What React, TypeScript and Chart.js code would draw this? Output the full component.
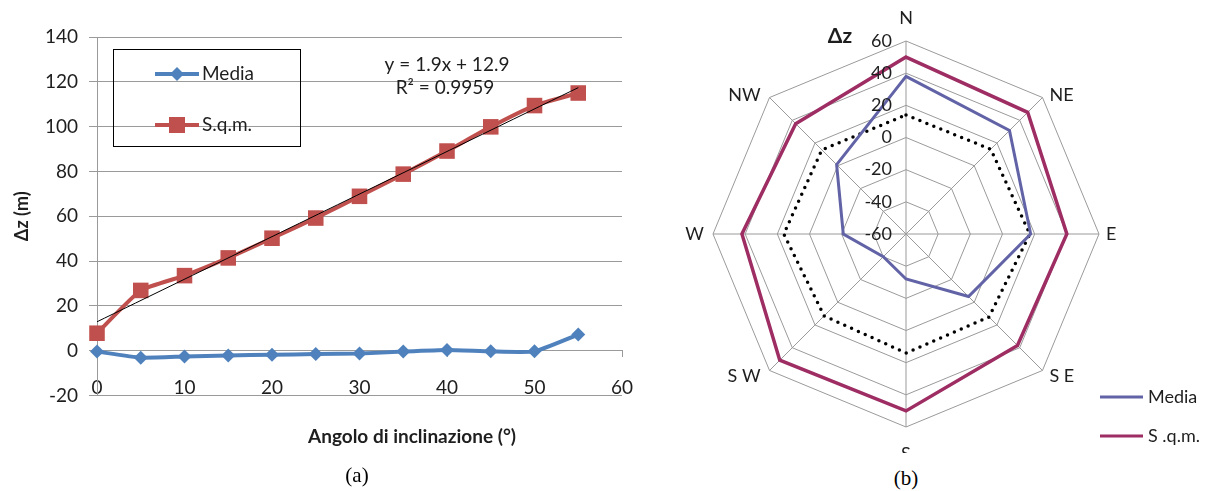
import React, { useEffect, useRef } from "react";
import { Chart, registerables } from "chart.js";

Chart.register(...registerables);

const FONT = "Lato, 'Open Sans', sans-serif";
const TEXT = "#1e1e1e";
const GRID = "#9a9a9a";

// ---------- Chart (a) data ----------
const angles = [0, 5, 10, 15, 20, 25, 30, 35, 40, 45, 50, 55];
const mediaA = [-0.4, -3.1, -2.6, -2.1, -1.8, -1.5, -1.3, -0.4, 0.3, -0.3, -0.3, 7.2];
const sqmA = [7.8, 26.9, 33.5, 41.4, 50.2, 59.2, 68.9, 78.8, 89.1, 99.9, 109.4, 115];
const trendX = [0, 55];
const trendY = [12.9, 117.4];
const yMinA = -20;
const yMaxA = 140;
const yStepA = 20;
const xMinA = 0;
const xMaxA = 60;
const xStepA = 10;
const legendA = ["Media", "S.q.m."];
const equationLines = ["y = 1.9x + 12.9", "R\u00B2 = 0.9959"];

// ---------- Chart (b) data ----------
const directions = ["N", "NE", "E", "S E", "S", "S W", "W", "NW"];
const mediaB = [38, 31, 17.5, -5, -32, -40, -21, 1];
const sqmB = [50, 47, 40, 38, 50, 51, 42, 37];
const dottedB = [14, 14.5, 17, 13, 14, 12, 16, 14];
const radarTicks = [-60, -40, -20, 0, 20, 40, 60];
const legendB = ["Media", "S .q.m."];

const BLUE = "#4F81BD";
const RED = "#C0504D";
const SLATE = "#6163A6";
const CRIMSON = "#9E2D63";

const annotA = {
  id: "annotA",
  afterDraw(chart: any) {
    const ctx = chart.ctx;
    ctx.save();
    // legend box
    ctx.strokeStyle = "#000";
    ctx.lineWidth = 1;
    ctx.strokeRect(113.5, 49.5, 187, 97);
    const rows = [74, 125];
    const cols = [BLUE, RED];
    rows.forEach((y, i) => {
      ctx.strokeStyle = cols[i];
      ctx.lineWidth = 4;
      ctx.beginPath();
      ctx.moveTo(155, y);
      ctx.lineTo(199, y);
      ctx.stroke();
      ctx.fillStyle = cols[i];
      ctx.beginPath();
      if (i === 0) {
        ctx.moveTo(177, y - 7);
        ctx.lineTo(184, y);
        ctx.lineTo(177, y + 7);
        ctx.lineTo(170, y);
        ctx.closePath();
      } else {
        ctx.rect(169, y - 8, 16, 16);
      }
      ctx.fill();
      ctx.fillStyle = TEXT;
      ctx.font = `19px ${FONT}`;
      ctx.textAlign = "left";
      ctx.textBaseline = "middle";
      ctx.fillText(legendA[i], 202, y);
    });
    // equation
    ctx.fillStyle = TEXT;
    ctx.font = `19px ${FONT}`;
    ctx.textAlign = "center";
    ctx.textBaseline = "middle";
    ctx.fillText(equationLines[0], 447, 65);
    ctx.fillText(equationLines[1], 445, 88);
    // x axis title
    ctx.font = `bold 19px ${FONT}`;
    ctx.fillText("Angolo di inclinazione (\u00B0)", 412, 437);
    ctx.restore();
  },
};

const annotB = {
  id: "annotB",
  afterDraw(chart: any) {
    const ctx = chart.ctx;
    const r = chart.scales.r;
    ctx.save();
    ctx.fillStyle = TEXT;
    ctx.font = `18px ${FONT}`;
    ctx.textAlign = "right";
    ctx.textBaseline = "middle";
    radarTicks.forEach((v) => {
      const d = r.getDistanceFromCenterForValue(v);
      ctx.fillText(String(v), r.xCenter - 14, r.yCenter - d);
    });
    directions.forEach((lab, i) => {
      const p = r.getPointPosition(i, r.drawingArea);
      const dx = p.x - r.xCenter;
      const dy = p.y - r.yCenter;
      let x = p.x;
      let y = p.y;
      if (Math.abs(dx) < 1) {
        ctx.textAlign = "center";
        y = dy < 0 ? p.y - 23 : p.y + 27;
      } else {
        ctx.textAlign = dx > 0 ? "left" : "right";
        x = dx > 0 ? p.x + 7 : p.x - 9;
        if (Math.abs(dy) < 1) y = p.y;
        else y = dy < 0 ? p.y - 2 : p.y + 6;
      }
      ctx.fillText(lab, x, y);
    });
    // Δz
    ctx.font = `bold 21px ${FONT}`;
    ctx.textAlign = "center";
    ctx.fillText("\u0394z", 180, 36);
    // legend
    const rows = [397, 436];
    const cols = [SLATE, CRIMSON];
    rows.forEach((y, i) => {
      ctx.strokeStyle = cols[i];
      ctx.lineWidth = 3;
      ctx.beginPath();
      ctx.moveTo(440, y);
      ctx.lineTo(483, y);
      ctx.stroke();
      ctx.fillStyle = TEXT;
      ctx.font = `18px ${FONT}`;
      ctx.textAlign = "left";
      ctx.fillText(legendB[i], 488, y);
    });
    ctx.restore();
  },
};

export default function App() {
  const refA = useRef<HTMLCanvasElement>(null);
  const refB = useRef<HTMLCanvasElement>(null);

  useEffect(() => {
    document.body.style.margin = "0";
    const tickFont = { family: FONT, size: 19 };
    const chartA = new Chart(refA.current as HTMLCanvasElement, {
      type: "line",
      data: {
        datasets: [
          {
            label: "Trend",
            data: trendX.map((x, i) => ({ x, y: trendY[i] })),
            borderColor: "#000",
            borderWidth: 1,
            pointRadius: 0,
            order: 0,
            clip: false,
          },
          {
            label: legendA[1],
            data: angles.map((x, i) => ({ x, y: sqmA[i] })),
            borderColor: RED,
            backgroundColor: RED,
            borderWidth: 4,
            pointStyle: "rect",
            pointRadius: 11,
            pointBorderWidth: 0,
            order: 1,
            clip: false,
          },
          {
            label: legendA[0],
            data: angles.map((x, i) => ({ x, y: mediaA[i] })),
            borderColor: BLUE,
            backgroundColor: BLUE,
            borderWidth: 4,
            pointStyle: "rectRot",
            pointRadius: 7,
            pointBorderWidth: 0,
            order: 2,
            clip: false,
          },
        ],
      } as any,
      options: {
        responsive: false,
        animation: false,
        layout: { padding: { left: 8, right: 38, top: 37, bottom: 95.5 } },
        plugins: { legend: { display: false }, tooltip: { enabled: false } },
        elements: { line: { tension: 0.15 } },
        scales: {
          x: {
            type: "linear",
            min: xMinA,
            max: xMaxA,
            position: { y: 0 } as any,
            ticks: { stepSize: xStepA, padding: 20, font: tickFont, color: TEXT, maxRotation: 0 },
            grid: { drawOnChartArea: false, drawTicks: true, tickLength: 6, color: GRID },
            border: { color: GRID },
          },
          y: {
            type: "linear",
            min: yMinA,
            max: yMaxA,
            ticks: { stepSize: yStepA, padding: 11, font: tickFont, color: TEXT },
            grid: { color: GRID, tickLength: 8 },
            border: { color: GRID },
            title: {
              display: true,
              text: "\u0394z (m)",
              color: TEXT,
              font: { family: FONT, size: 18, weight: "bold" },
              padding: { top: 3, bottom: 0 },
            },
            afterFit: (s: any) => {
              s.width = 89;
            },
          },
        },
      } as any,
      plugins: [annotA],
    });

    const chartB = new Chart(refB.current as HTMLCanvasElement, {
      type: "radar",
      data: {
        labels: directions,
        datasets: [
          { label: legendB[0], data: mediaB, borderColor: SLATE, borderWidth: 3, fill: false, pointRadius: 0 },
          { label: legendB[1], data: sqmB, borderColor: CRIMSON, borderWidth: 3.5, fill: false, pointRadius: 0 },
          {
            label: "",
            data: dottedB,
            borderColor: "#000",
            borderWidth: 3.5,
            borderDash: [0, 7.5],
            borderCapStyle: "round",
            fill: false,
            pointRadius: 0,
          },
        ],
      } as any,
      options: {
        responsive: false,
        animation: false,
        layout: { padding: { left: 53, right: 113, top: 41, bottom: 26 } },
        plugins: { legend: { display: false }, tooltip: { enabled: false } },
        elements: { line: { tension: 0 } },
        scales: {
          r: {
            min: radarTicks[0],
            max: radarTicks[radarTicks.length - 1],
            ticks: { display: false, stepSize: 20 },
            grid: { color: GRID, lineWidth: 1, circular: false },
            angleLines: { color: GRID, lineWidth: 1 },
            pointLabels: { display: false },
          },
        },
      } as any,
      plugins: [annotB],
    });

    return () => {
      chartA.destroy();
      chartB.destroy();
    };
  }, []);

  const caption: React.CSSProperties = {
    position: "absolute",
    width: 80,
    textAlign: "center",
    font: "21px 'Liberation Serif', 'Times New Roman', serif",
    color: "#000",
    lineHeight: "24px",
  };

  return (
    <div style={{ position: "fixed", left: 0, top: 0, width: 1212, height: 491, background: "#fff", overflow: "hidden" }}>
      <canvas ref={refA} width={660} height={491} style={{ position: "absolute", left: 0, top: 0, width: 660, height: 491 }} />
      <canvas ref={refB} width={552} height={453} style={{ position: "absolute", left: 660, top: 0, width: 552, height: 453 }} />
      <div style={{ ...caption, left: 317, top: 463 }}>(a)</div>
      <div style={{ ...caption, left: 866, top: 466 }}>(b)</div>
    </div>
  );
}
